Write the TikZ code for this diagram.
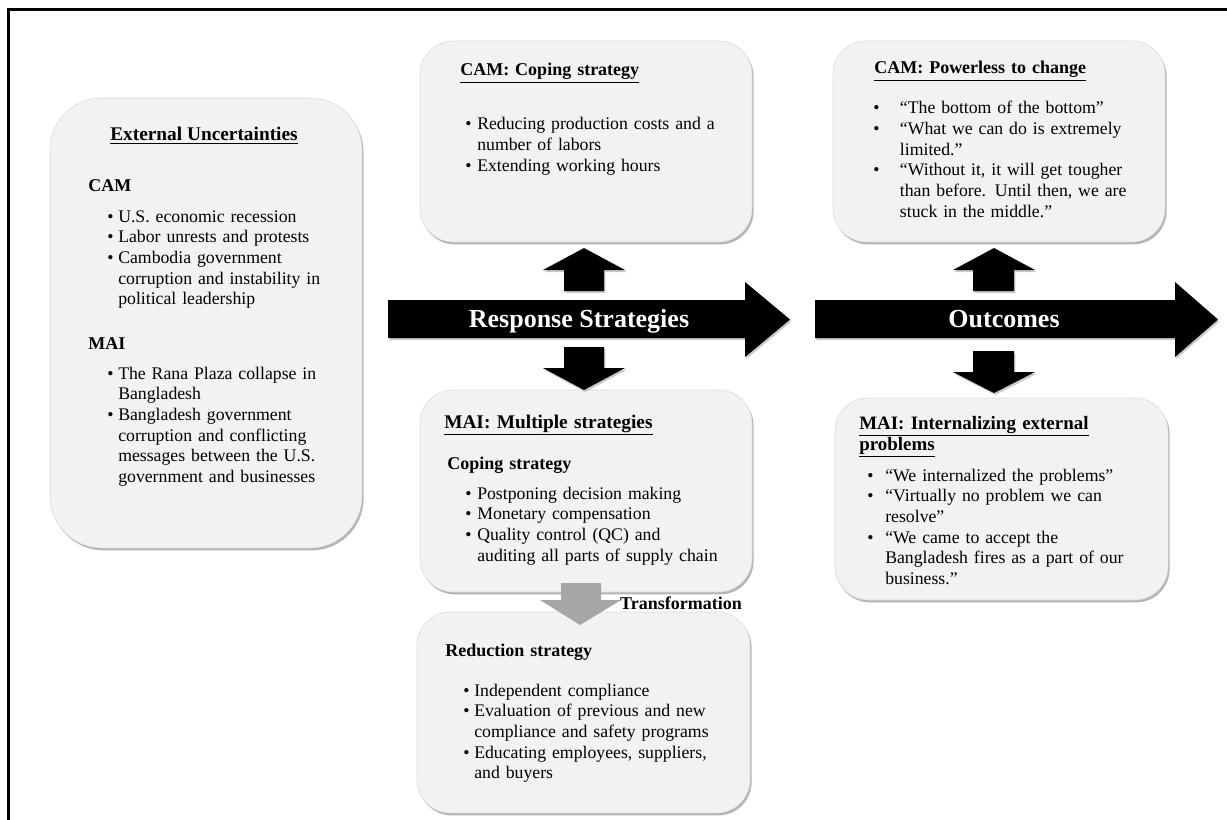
\documentclass[tikz,border=0pt]{standalone}
\usepackage{fontspec}
\setmainfont{Liberation Serif}
\usetikzlibrary{shadows}
\definecolor{boxgray}{HTML}{F2F2F2}
\definecolor{arrgray}{HTML}{A6A6A6}
\newcommand{\bul}[1]{\makebox[#1][l]{\textbullet}}
\begin{document}
\begin{tikzpicture}[x=0.75pt,y=-0.75pt,
  box/.style={draw=black!15, line width=0.4pt, fill=boxgray, rounded corners=25pt,
    inner sep=0pt, outer sep=0pt,
    drop shadow={shadow xshift=1.2pt, shadow yshift=-1.8pt, opacity=0.45, fill=black!65}},
  body/.style={anchor=base west, inner sep=0pt, text width=260pt, align=left,
    font=\fontsize{13.3}{15.5}\selectfont},
  headb/.style={anchor=base west, inner sep=0pt, text width=260pt, align=left,
    font=\fontsize{13.5}{15.75}\selectfont\bfseries},
  headbig/.style={headb, font=\fontsize{14.5}{15.75}\selectfont\bfseries},
  blk/.style={fill=black, drop shadow={shadow xshift=1pt, shadow yshift=-1.5pt, opacity=0.35, fill=black!60}},
  arrtext/.style={anchor=base, inner sep=0pt, text=white, font=\fontsize{19.5}{22}\selectfont\bfseries}
]
\useasboundingbox (0,0) rectangle (1227,820);
\fill[white] (0,0) rectangle (1227,820);
\draw[line width=2.3pt] (8.5,822) -- (8.5,9.5) -- (1229,9.5);

% boxes
\node[box, rounded corners=39pt, minimum width=234pt, minimum height=337.5pt] (ext) at (206,323) {};
\node[box, minimum width=249pt, minimum height=150.75pt] (camcope) at (586,141.5) {};
\node[box, minimum width=249pt, minimum height=150.75pt] (campow) at (999,141.5) {};
\node[box, minimum width=249pt, minimum height=151.5pt] (maimult) at (586,491) {};
\node[box, minimum width=249.75pt, minimum height=150.75pt] (maired) at (583.5,712.5) {};
\node[box, minimum width=249.75pt, minimum height=151.5pt] (maiint) at (1001.5,499) {};

% big arrows
\fill[blk] (388,300) -- (745,300) -- (745,282) -- (790,319.5) -- (745,357) -- (745,338) -- (388,338) -- cycle;
\fill[blk] (815,300) -- (1175,300) -- (1175,282) -- (1218,319.5) -- (1175,357) -- (1175,338) -- (815,338) -- cycle;
\node[arrtext] (resp) at (579,327) {Response Strategies};
\node[arrtext] (outc) at (1004,327) {Outcomes};

% up / down arrows
\fill[blk] (564,291) -- (564,270) -- (543,270) -- (584,248) -- (625,270) -- (604,270) -- (604,291) -- cycle;
\fill[blk] (564,347) -- (604,347) -- (604,368) -- (625,368) -- (584,390) -- (543,368) -- (564,368) -- cycle;
\fill[blk] (973,291) -- (973,270) -- (953,270) -- (994,248) -- (1035,270) -- (1014,270) -- (1014,291) -- cycle;
\fill[blk] (973,351) -- (1014,351) -- (1014,372) -- (1035,372) -- (994,393) -- (953,372) -- (973,372) -- cycle;

% transformation arrow
\fill[arrgray] (561,583) -- (601,583) -- (601,600) -- (621,600) -- (580,625) -- (540,600) -- (561,600) -- cycle;
\node[anchor=base, inner sep=0pt, font=\fontsize{13.5}{15}\selectfont\bfseries] (trans) at (681,609) {Transformation};

% left box text
\node[headbig, anchor=base, text width=] (extt) at (204,141) {\underline{External Uncertainties}};
\node[headb] (extcam) at (88,191) {CAM};
\node[body] (extcaml) at (107,222) {\bul{8.25pt}U.S. economic recession\\
\bul{8.25pt}Labor unrests and protests\\
\bul{8.25pt}Cambodia government\\
\hspace*{8.25pt}corruption and instability in\\
\hspace*{8.25pt}political leadership};
\node[headb] (extmai) at (88,349) {MAI};
\node[body] (extmail) at (107,379) {\bul{8.25pt}The Rana Plaza collapse in\\
\hspace*{8.25pt}Bangladesh\\
\bul{8.25pt}Bangladesh government\\
\hspace*{8.25pt}corruption and conflicting\\
\hspace*{8.25pt}messages between the U.S.\\
\hspace*{8.25pt}government and businesses};

% top middle
\node[headb] (cct) at (460,76) {\underline{CAM: Coping strategy}};
\node[body] (ccl) at (465,130) {\bul{9pt}Reducing production costs and a\\
\hspace*{9pt}number of labors\\
\bul{9pt}Extending working hours};

% top right
\node[headb] (cpt) at (874,74) {\underline{CAM: Powerless to change}};
\node[body] (cpl) at (873,114) {\bul{20pt}“The bottom of the bottom”\\
\bul{20pt}“What we can do is extremely\\
\hspace*{20pt}limited.”\\
\bul{20pt}“Without it, it will get tougher\\
\hspace*{20pt}than before. Until then, we are\\
\hspace*{20pt}stuck in the middle.”};

% middle bottom
\node[headbig] (mmt) at (444,428) {\underline{MAI: Multiple strategies}};
\node[headb] (mmc) at (447,469) {Coping strategy};
\node[body] (mml) at (465,499) {\bul{9pt}Postponing decision making\\
\bul{9pt}Monetary compensation\\
\bul{9pt}Quality control (QC) and\\
\hspace*{9pt}auditing all parts of supply chain};

% reduction
\node[headb] (mrt) at (445,656) {Reduction strategy};
\node[body] (mrl) at (463,696) {\bul{8.25pt}Independent compliance\\
\bul{8.25pt}Evaluation of previous and new\\
\hspace*{8.25pt}compliance and safety programs\\
\bul{8.25pt}Educating employees, suppliers,\\
\hspace*{8.25pt}and buyers};

% bottom right
\node[headb, font=\fontsize{14.2}{15.75}\selectfont\bfseries] (mit) at (859,429) {\underline{MAI: Internalizing external}\\
\underline{problems}};
\node[body] (mil) at (867,481) {\bul{13.5pt}“We internalized the problems”\\
\bul{13.5pt}“Virtually no problem we can\\
\hspace*{13.5pt}resolve”\\
\bul{13.5pt}“We came to accept the\\
\hspace*{13.5pt}Bangladesh fires as a part of our\\
\hspace*{13.5pt}business.”};
\end{tikzpicture}
\end{document}
